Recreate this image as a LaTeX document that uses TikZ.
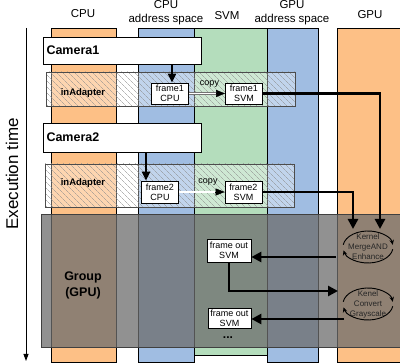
\documentclass[tikz,border=0pt]{standalone}
\usepackage{fontspec}
\setmainfont{Liberation Sans}
\usetikzlibrary{arrows.meta,patterns.meta}
\definecolor{cpuor}{RGB}{253,192,134}
\definecolor{addrbl}{RGB}{160,189,226}
\definecolor{svmgr}{RGB}{180,221,188}
\definecolor{grpgray}{RGB}{110,110,110}
\begin{document}
\begin{tikzpicture}[x=1pt,y=-1pt,
  col/.style={draw=black, line width=0.8pt},
  hdr/.style={font=\fontsize{11.5}{14}\selectfont, align=center, inner sep=0pt},
  cambox/.style={draw=black, fill=white, line width=0.8pt, text width=151pt, inner xsep=3.5pt, inner ysep=0pt, align=left, font=\bfseries\fontsize{12.5}{14}\selectfont},
  hatchbox/.style={draw=black!70, line width=0.6pt, pattern={Lines[angle=-45,distance=4pt,line width=0.35pt]}, pattern color=black!45},
  framebox/.style={draw=black, fill=white, line width=0.7pt, inner sep=0pt, align=center, font=\fontsize{9}{10}\selectfont},
  kern/.style={align=center, inner sep=0pt, text=black!85, font=\fontsize{8}{10}\selectfont},
  camarrow/.style={line width=2pt, -{Triangle[length=9pt,width=8pt]}},
  bigarrow/.style={line width=2.6pt, -{Triangle[length=10pt,width=10pt]}},
  loop/.style={line width=0.9pt, -{Stealth[length=5pt,width=4.5pt]}},
  smalltext/.style={font=\fontsize{9}{10}\selectfont, inner sep=0pt}
]
\useasboundingbox (0,0) rectangle (400,363);
% columns
\draw[col, fill=cpuor] (51,28) rectangle (116,362);
\draw[col, fill=addrbl] (138,28) rectangle (194,362);
\draw[col, fill=svmgr] (194,28) rectangle (267,355);
\draw[col, fill=addrbl] (267,28) rectangle (318,362);
\draw[col, fill=cpuor] (337,28) rectangle (403,362);
% headers
\node[hdr] (hcpu) at (83,14) {CPU};
\node[hdr] (hcpua) at (166,13) {CPU\\address space};
\node[hdr] (hsvm) at (227,16) {SVM};
\node[hdr] (hgpua) at (292,13) {GPU\\address space};
\node[hdr] (hgpu) at (370,15) {GPU};
% execution time axis
\coordinate (axtop) at (26,28);
\coordinate (axbot) at (26,361);
\draw[line width=0.9pt, -{Triangle[length=7pt,width=5pt]}] (axtop) -- (axbot);
\node[font=\fontsize{17}{20}\selectfont, inner sep=0pt, rotate=90] (exlab) at (12,174) {Execution time};
% hatched boxes
\fill[white, fill opacity=0.35] (46,72) rectangle (295,106);
\fill[white, fill opacity=0.35] (45,164) rectangle (294,207);
\node[hatchbox, minimum width=249pt, minimum height=34pt, inner sep=0pt] (h1) at (170.5,89) {};
\node[hatchbox, minimum width=249pt, minimum height=43pt, inner sep=0pt] (h2) at (169.5,185.5) {};
\node[font=\bfseries\fontsize{9.5}{11}\selectfont, inner sep=0pt] (ia1) at (83,93) {inAdapter};
\node[font=\bfseries\fontsize{9.5}{11}\selectfont, inner sep=0pt] (ia2) at (83,183) {inAdapter};
% cameras
\node[cambox, minimum height=27pt] (cam1) at (122,50.5) {Camera1};
\node[cambox, minimum height=29pt] (cam2) at (122,137.5) {Camera2};
% frames
\node[framebox, minimum width=37pt, minimum height=21pt] (f1c) at (170,93.5) {frame1\\CPU};
\node[framebox, minimum width=37pt, minimum height=21pt] (f1s) at (244,93.5) {frame1\\SVM};
\node[framebox, minimum width=37pt, minimum height=22pt] (f2c) at (160,192) {frame2\\CPU};
\node[framebox, minimum width=37pt, minimum height=22pt] (f2s) at (243.5,192) {frame2\\SVM};
% camera arrows
\coordinate (c1x) at (172,0);
\coordinate (c2x) at (146,0);
\draw[camarrow] (cam1.south -| c1x) -- (f1c.north -| c1x);
\draw[camarrow] (cam2.south -| c2x) -- (f2c.north -| c2x);
% copy arrows
\draw[black!55, double=white, double distance=1.3pt, line width=0.5pt] (f1c.east) -- ([xshift=-9pt]f1s.west);
\draw[-{Triangle[length=9pt,width=7pt]}, line width=0.5pt] ([xshift=-9.5pt]f1s.west) -- (f1s.west);
\node[smalltext] (cp1) at (209.5,84.5) {copy};
\draw[black!55, double=white, double distance=1.3pt, line width=0.5pt] (f2c.east) -- ([xshift=-9pt]f2s.west);
\draw[-{Triangle[length=9pt,width=7pt]}, line width=0.5pt] ([xshift=-9.5pt]f2s.west) -- (f2s.west);
\node[smalltext] (cp2) at (208,182.5) {copy};
% group overlay
\draw[draw=black!75, line width=0.8pt, fill=grpgray, fill opacity=0.76] (41,214) rectangle (403,347);
\node[font=\bfseries\fontsize{12.5}{16}\selectfont, align=center, inner sep=0pt] (grp) at (83,285) {Group\\(GPU)};
% kernels
\node[kern] (k1) at (368,247) {Kernel\\MergeAND\\Enhance};
\node[kern] (k2) at (368,304) {Kenel\\Convert\\Grayscale};
\draw[loop] (k1) ++(188:25 and 16) arc[start angle=188, end angle=352, x radius=25, y radius=16];
\draw[loop] (k1) ++(8:25 and 16) arc[start angle=8, end angle=168, x radius=25, y radius=16];
\draw[loop] (k2) ++(188:25 and 16) arc[start angle=188, end angle=352, x radius=25, y radius=16];
\draw[loop] (k2) ++(8:25 and 16) arc[start angle=8, end angle=168, x radius=25, y radius=16];
% frame outs
\node[framebox, minimum width=44pt, minimum height=23pt] (fo1) at (229,250.5) {frame out\\SVM};
\node[framebox, minimum width=43pt, minimum height=20pt] (fo2) at (229.5,318) {frame out\\SVM};
\node[font=\bfseries\fontsize{12}{12}\selectfont, inner sep=0pt] (dots) at (228,338) {...};
% big arrows
\coordinate (k1in1) at (380,229);
\coordinate (k1in2) at (353,229);
\coordinate (k1out) at (336,257);
\coordinate (k2in) at (338,291);
\coordinate (k2out) at (344,319);
\draw[bigarrow] (f1s.east) -| (k1in1);
\draw[bigarrow] (f2s.east) -| (k1in2);
\draw[bigarrow] (k1out) -- (k1out -| fo1.east);
\draw[bigarrow] (fo1.south) |- (k2in);
\draw[bigarrow] (k2out) -- (k2out -| fo2.east);
\end{tikzpicture}
\end{document}
